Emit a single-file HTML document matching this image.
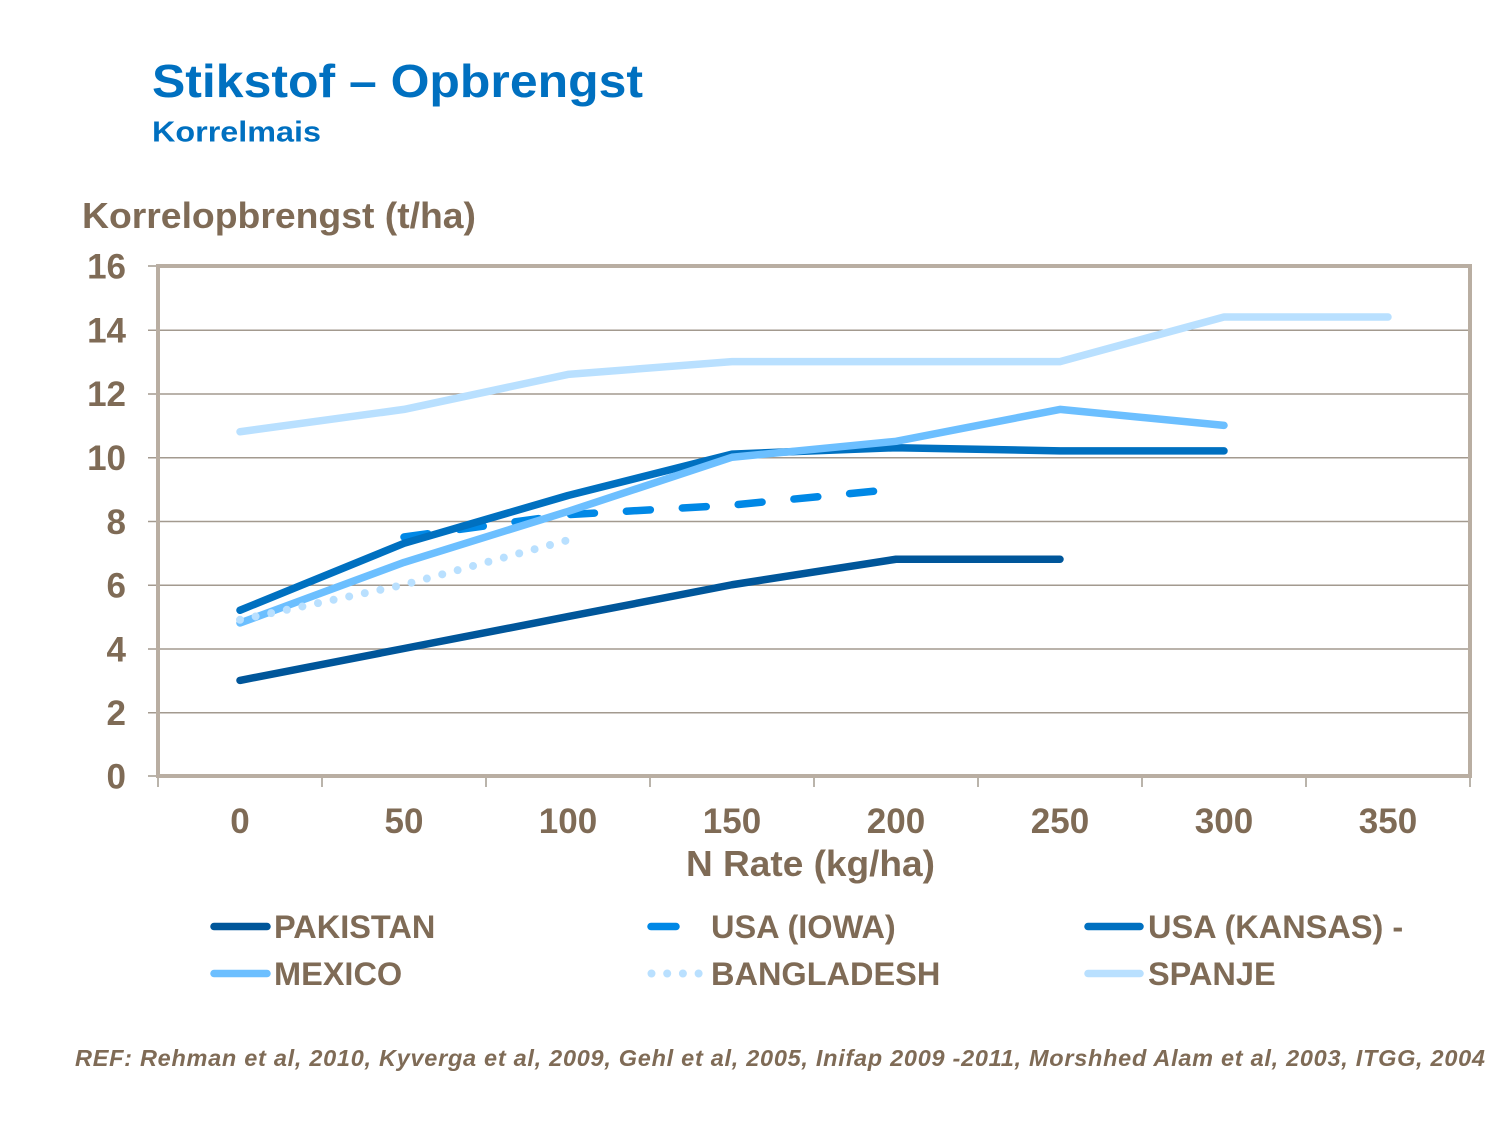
<!DOCTYPE html>
<html>
<head>
<meta charset="utf-8">
<style>
html,body{margin:0;padding:0;background:#fff;}
svg{display:block;}
text{font-family:"Liberation Sans",Arial,sans-serif;font-weight:bold;}
</style>
</head>
<body>
<svg width="1500" height="1125" viewBox="0 0 1500 1125" xmlns="http://www.w3.org/2000/svg">
  <rect x="0" y="0" width="1500" height="1125" fill="#ffffff"/>

  <!-- Title -->
  <text x="152" y="97" font-size="46" fill="#0070C0" textLength="491" lengthAdjust="spacingAndGlyphs">Stikstof – Opbrengst</text>
  <text x="152" y="141.5" font-size="29" fill="#0070C0" textLength="169" lengthAdjust="spacingAndGlyphs">Korrelmais</text>

  <!-- Y axis title -->
  <text x="82" y="228" font-size="36" fill="#7f6b56" textLength="394" lengthAdjust="spacingAndGlyphs">Korrelopbrengst (t/ha)</text>

  <!-- Gridlines -->
  <g stroke="#a39a8f" stroke-width="1.5">
    <line x1="148" y1="330.25" x2="1470" y2="330.25"/>
    <line x1="148" y1="394" x2="1470" y2="394"/>
    <line x1="148" y1="457.75" x2="1470" y2="457.75"/>
    <line x1="148" y1="521.5" x2="1470" y2="521.5"/>
    <line x1="148" y1="585.25" x2="1470" y2="585.25"/>
    <line x1="148" y1="649" x2="1470" y2="649"/>
    <line x1="148" y1="712.75" x2="1470" y2="712.75"/>
    <line x1="148" y1="266" x2="158" y2="266"/>
    <line x1="148" y1="776" x2="158" y2="776"/>
  </g>
  <!-- X ticks -->
  <g stroke="#a39a8f" stroke-width="1.5">
    <line x1="158" y1="776" x2="158" y2="787"/>
    <line x1="322" y1="776" x2="322" y2="787"/>
    <line x1="486" y1="776" x2="486" y2="787"/>
    <line x1="650" y1="776" x2="650" y2="787"/>
    <line x1="814" y1="776" x2="814" y2="787"/>
    <line x1="978" y1="776" x2="978" y2="787"/>
    <line x1="1142" y1="776" x2="1142" y2="787"/>
    <line x1="1306" y1="776" x2="1306" y2="787"/>
    <line x1="1470" y1="776" x2="1470" y2="787"/>
  </g>

  <!-- Plot frame -->
  <rect x="158" y="266" width="1312" height="510" fill="none" stroke="#b9aea2" stroke-width="4"/>

  <!-- Y labels -->
  <g font-size="35" fill="#7f6b56" text-anchor="end">
    <text x="126" y="278.5">16</text>
    <text x="126" y="342.5">14</text>
    <text x="126" y="406">12</text>
    <text x="126" y="470">10</text>
    <text x="126" y="534">8</text>
    <text x="126" y="597.5">6</text>
    <text x="126" y="661.5">4</text>
    <text x="126" y="725">2</text>
    <text x="126" y="788.5">0</text>
  </g>

  <!-- X labels -->
  <g font-size="35" fill="#7f6b56" text-anchor="middle">
    <text x="240" y="833">0</text>
    <text x="404" y="833">50</text>
    <text x="568" y="833">100</text>
    <text x="732" y="833">150</text>
    <text x="896" y="833">200</text>
    <text x="1060" y="833">250</text>
    <text x="1224" y="833">300</text>
    <text x="1388" y="833">350</text>
  </g>
  <text x="686" y="876" font-size="36" fill="#7f6b56" textLength="249" lengthAdjust="spacingAndGlyphs">N Rate (kg/ha)</text>

  <!-- Series -->
  <g fill="none" stroke-width="7.5" stroke-linecap="round" stroke-linejoin="round">
    <!-- PAKISTAN -->
    <polyline stroke="#00569A" points="240,680.4 404,648.5 568,616.6 732,584.75 896,559.25 1060,559.25"/>
    <!-- USA (IOWA) -->
    <polyline stroke="#0088E6" stroke-dasharray="24 32" points="404,537 568,514.6 732,505.1 896,489.1"/>
    <!-- USA (KANSAS) -->
    <polyline stroke="#0070C0" points="240,610.25 404,543.3 568,495.5 732,454.1 896,447.7 1060,450.9 1224,450.9"/>
    <!-- MEXICO -->
    <polyline stroke="#6CBFFF" points="240,623 404,562.4 568,511.4 732,457.25 896,441.3 1060,409.4 1224,425.4"/>
    <!-- BANGLADESH -->
    <polyline stroke="#B9E0FF" stroke-width="8" stroke-dasharray="0 15.95" points="240,619.8 404,584.75 568,540.1"/>
    <!-- SPANJE -->
    <polyline stroke="#B9E0FF" points="240,431.75 404,409.4 568,374.4 732,361.6 896,361.6 1060,361.6 1224,317 1388,317"/>
  </g>

  <!-- Legend -->
  <g fill="none" stroke-width="7.5" stroke-linecap="round">
    <line x1="214" y1="926.5" x2="267" y2="926.5" stroke="#00569A"/>
    <line x1="651" y1="926.5" x2="676" y2="926.5" stroke="#0088E6"/>
    <line x1="1088" y1="926.5" x2="1140" y2="926.5" stroke="#0070C0"/>
    <line x1="214" y1="973.5" x2="267" y2="973.5" stroke="#6CBFFF"/>
    <line x1="651.5" y1="973.5" x2="700" y2="973.5" stroke="#B9E0FF" stroke-width="8" stroke-dasharray="0 15.7"/>
    <line x1="1088" y1="973.5" x2="1140" y2="973.5" stroke="#B9E0FF"/>
  </g>
  <g font-size="32.5" fill="#7f6b56">
    <text x="274" y="938">PAKISTAN</text>
    <text x="711" y="938">USA (IOWA)</text>
    <text x="1148" y="938">USA (KANSAS) -</text>
    <text x="274" y="985">MEXICO</text>
    <text x="711" y="985">BANGLADESH</text>
    <text x="1148" y="985">SPANJE</text>
  </g>

  <!-- Reference -->
  <text x="75" y="1066" font-size="23.5" font-style="italic" fill="#7f6b56" textLength="1410" lengthAdjust="spacing">REF: Rehman  et al,  2010, Kyverga  et al,  2009, Gehl et al,  2005, Inifap  2009 -2011, Morshhed Alam  et al,  2003, ITGG,  2004</text>
</svg>
</body>
</html>
